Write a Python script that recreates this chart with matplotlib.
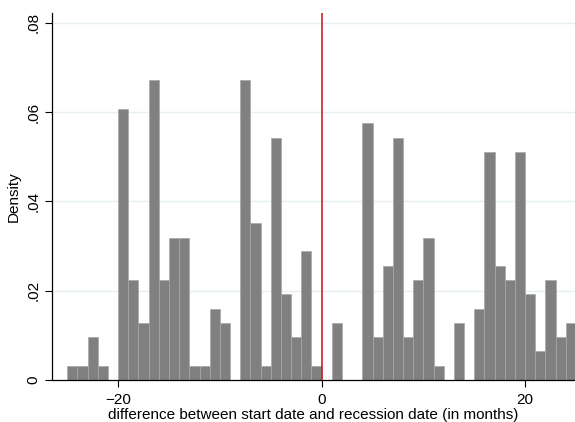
import numpy as np
import matplotlib
matplotlib.use("Agg")
import matplotlib.pyplot as plt

# histogram bins (1 month wide), left edges and density
bin_left = list(range(-25, 25))
density = [0.0032, 0.0032, 0.0096, 0.0032, 0.0,
           0.0607, 0.0224, 0.0128, 0.0671, 0.0224,
           0.0319, 0.0319, 0.0032, 0.0032, 0.0160,
           0.0128, 0.0, 0.0671, 0.0351, 0.0032,
           0.0543, 0.0192, 0.0096, 0.0288, 0.0032,
           0.0, 0.0128, 0.0, 0.0, 0.0575,
           0.0096, 0.0256, 0.0543, 0.0096, 0.0224,
           0.0319, 0.0032, 0.0, 0.0128, 0.0,
           0.0160, 0.0511, 0.0256, 0.0224, 0.0511,
           0.0192, 0.0064, 0.0224, 0.0096, 0.0128]
yticks = [0, 0.02, 0.04, 0.06, 0.08]
ytick_labels = ["0", ".02", ".04", ".06", ".08"]
xticks = [-20, 0, 20]
recession_x = 0

plt.rcParams['font.family'] = ['Liberation Sans', 'DejaVu Sans']

fig = plt.figure(figsize=(5.75, 4.22), dpi=100)
ax = fig.add_axes([0.0904, 0.0995, 0.9096, 0.8695])

# faint stata-style gridlines
for y in yticks[1:]:
    ax.axhline(y, color='#e6f0f2', linewidth=1, zorder=0)

ax.bar(bin_left, density, width=1, align='edge', color='#808080',
       edgecolor='#a8a8a8', linewidth=0.5, zorder=2)
ax.axvline(recession_x, color='#d0202f', linewidth=1.2, zorder=3)

ax.set_xlim(-26.5, 24.9)
ax.set_ylim(0, 0.0822)
ax.set_yticks(yticks)
ax.set_yticklabels(ytick_labels, rotation=90, va='center')
ax.set_xticks(xticks)
ax.tick_params(axis='both', length=5, width=0.8, labelsize=11, color='black')
ax.tick_params(axis='x', pad=4)

ax.spines['top'].set_visible(False)
ax.spines['right'].set_visible(False)
ax.spines['left'].set_linewidth(0.9)
ax.spines['bottom'].set_linewidth(0.9)

ax.set_ylabel("Density", fontsize=11, labelpad=4)
ax.set_xlabel("difference between start date and recession date (in months)",
              fontsize=11, labelpad=1)

fig.savefig("out.png", dpi=100)
